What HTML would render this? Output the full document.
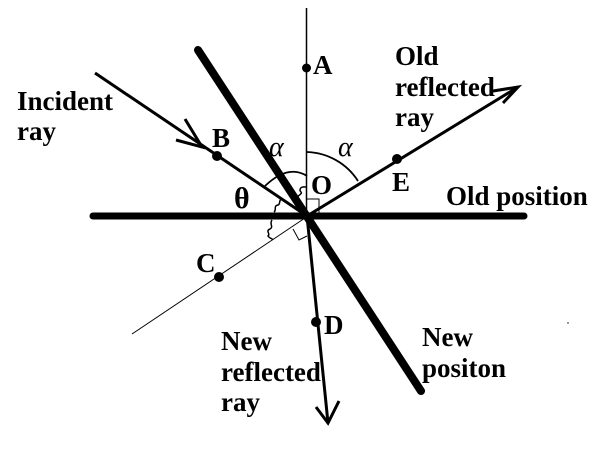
<!DOCTYPE html>
<html>
<head>
<meta charset="utf-8">
<style>
  html, body { margin: 0; padding: 0; background: #fff; }
  svg { display: block; }
  .lbl { font-family: "Liberation Serif", serif; font-weight: bold; font-size: 27px; fill: #000; }
  .sym { font-family: "Liberation Serif", serif; font-style: italic; font-size: 28px; fill: #000; }
</style>
</head>
<body>
<svg width="603" height="454" viewBox="0 0 603 454" xmlns="http://www.w3.org/2000/svg">
  <rect width="603" height="454" fill="#fff"/>

  <!-- normal (vertical) line -->
  <line x1="306.5" y1="8" x2="306.5" y2="216" stroke="#000" stroke-width="1.5"/>

  <!-- line through C -->
  <line x1="132" y1="334" x2="305" y2="218" stroke="#000" stroke-width="1"/>

  <!-- old position mirror -->
  <line x1="93" y1="216" x2="524" y2="216" stroke="#000" stroke-width="7" stroke-linecap="round"/>

  <!-- new position mirror -->
  <line x1="198" y1="50" x2="421" y2="391" stroke="#000" stroke-width="8" stroke-linecap="round"/>

  <!-- incident ray -->
  <line x1="95" y1="73" x2="307" y2="216" stroke="#000" stroke-width="3"/>
  <polyline points="176,140 202,147 185,119" fill="none" stroke="#000" stroke-width="3"/>

  <!-- old reflected ray -->
  <line x1="307" y1="216" x2="518" y2="87" stroke="#000" stroke-width="3"/>
  <polyline points="493,91 518,87 503,103" fill="none" stroke="#000" stroke-width="3"/>

  <!-- new reflected ray -->
  <line x1="307" y1="216" x2="328" y2="423" stroke="#000" stroke-width="3"/>
  <polyline points="316,407 328,423 339,401" fill="none" stroke="#000" stroke-width="3"/>

  <!-- arcs -->
  <path d="M307,152 A63,63 0 0 1 358,181" fill="none" stroke="#000" stroke-width="1.8"/>
  <path d="M265,186 Q288,164 307,176" fill="none" stroke="#000" stroke-width="1.8"/>

  <!-- squiggles -->
  <path d="M306,187 C300,186 299,190 301,192 C303,194 297,195 297,199" fill="none" stroke="#000" stroke-width="1.5"/>
  <path d="M283,199 C278,199 281,204 278,205 C273,206 277,210 274,212" fill="none" stroke="#000" stroke-width="1.5"/>
  <path d="M272,220 C269,224 274,227 270,229 C265,231 271,234 268,236 C270,239 272,238 273,240" fill="none" stroke="#000" stroke-width="1.5"/>

  <!-- right angle marks -->
  <polyline points="307,199 319,199 319,213" fill="none" stroke="#000" stroke-width="1"/>
  <polyline points="293,229 299,240 307,236" fill="none" stroke="#000" stroke-width="1"/>

  <!-- points -->
  <circle cx="306.5" cy="68" r="4.5" fill="#000"/>
  <circle cx="217" cy="156" r="5" fill="#000"/>
  <circle cx="397" cy="159" r="5" fill="#000"/>
  <circle cx="219" cy="277" r="5" fill="#000"/>
  <circle cx="316" cy="322" r="5" fill="#000"/>
  <circle cx="568" cy="323" r="0.7" fill="#000"/>

  <!-- point labels -->
  <text class="lbl" x="313" y="74">A</text>
  <text class="lbl" x="212" y="147">B</text>
  <text class="lbl" x="311" y="194">O</text>
  <text class="lbl" x="392" y="191">E</text>
  <text class="lbl" x="196" y="272">C</text>
  <text class="lbl" x="324" y="334">D</text>

  <!-- angle symbols -->
  <text class="sym" x="269" y="156">α</text>
  <text class="sym" x="338" y="156">α</text>
  <text class="sym" x="234" y="208" style="font-style:normal;font-weight:bold;font-size:30px;">θ</text>

  <!-- descriptive labels -->
  <text class="lbl" x="17" y="110">Incident</text>
  <text class="lbl" x="17" y="140">ray</text>

  <text class="lbl" x="395" y="65">Old</text>
  <text class="lbl" x="395" y="96">reflected</text>
  <text class="lbl" x="395" y="126">ray</text>

  <text class="lbl" x="446" y="205">Old position</text>

  <text class="lbl" x="221" y="350">New</text>
  <text class="lbl" x="221" y="381">reflected</text>
  <text class="lbl" x="221" y="411">ray</text>

  <text class="lbl" x="422" y="346">New</text>
  <text class="lbl" x="422" y="377">positon</text>
</svg>
</body>
</html>
